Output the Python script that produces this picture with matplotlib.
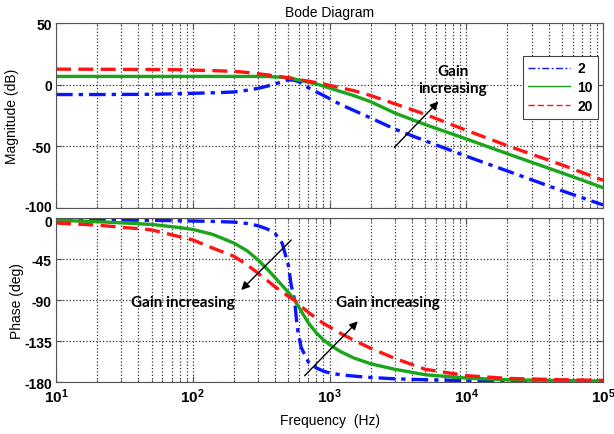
import numpy as np
import matplotlib
matplotlib.use('Agg')
import matplotlib.pyplot as plt
import matplotlib.transforms as mtransforms
from matplotlib.lines import Line2D

# gain values in the legend
gains = ['2', '10', '20']

# magnitude (dB)
f_mag = [10, 20, 50, 80, 100, 150, 200, 250, 300, 350, 400, 450, 500, 550, 600,
         700, 800, 900, 1000, 1200, 1500, 2000, 3000, 5000, 1e4, 2e4, 5e4, 1e5]
mag_2 = [-8.0, -8.0, -7.8, -7.3, -7.0, -6.5, -5.9, -4.5, -3.0, -1.2, 0.6, 2.5, 3.9, 3.6, 2.3,
         -2.5, -5.8, -8.6, -11.3, -16.0, -20.8, -27.0, -36.0, -45.5, -58.0, -70.0, -86.0, -97.5]
mag_10 = [6.7, 6.7, 6.7, 6.7, 6.7, 6.7, 6.7, 6.7, 6.7, 6.6, 6.3, 6.0, 5.6, 4.7, 3.6,
          2.0, 0.6, -1.1, -2.7, -5.5, -8.8, -13.8, -23.0, -32.3, -44.0, -56.0, -71.5, -83.5]
mag_20 = [12.6, 12.5, 12.3, 12.1, 11.8, 11.3, 10.8, 9.9, 8.9, 8.0, 7.1, 6.3, 5.6, 4.8, 4.0,
          2.8, 1.7, 0.6, -0.5, -2.5, -4.8, -8.8, -15.5, -24.0, -37.0, -49.5, -65.0, -77.5]

# phase (deg)
f_ph = [10, 20, 50, 80, 100, 140, 200, 250, 300, 350, 400, 450, 500, 525, 555, 580, 620,
        700, 800, 900, 1000, 1200, 1500, 2000, 3000, 5000, 1e4, 2e4, 5e4, 1e5]
ph_2 = [-1.5, -2.0, -2.5, -3.0, -3.3, -3.7, -4.5, -6.0, -8.5, -12.0, -17.0, -27.5, -52.0, -74.0, -90.0,
        -120.0, -142.0, -158.0, -164.5, -168.0, -170.0, -172.0, -173.5, -175.0, -176.5, -177.5,
        -178.5, -179.0, -179.5, -179.7]
ph_10 = [-2.5, -4.0, -7.0, -10.5, -12.5, -18.0, -27.5, -36.0, -46.0, -56.0, -65.5, -74.0, -81.5, -85.5,
         -90.0, -95.0, -102.0, -115.0, -126.0, -133.5, -139.0, -146.5, -153.5, -160.0, -166.0,
         -172.0, -175.7, -177.5, -178.4, -178.8]
ph_20 = [-5.5, -7.8, -13.0, -20.5, -24.0, -33.0, -42.0, -51.5, -60.5, -68.5, -75.5, -81.0, -86.0, -88.0,
         -90.0, -93.0, -97.0, -103.5, -110.0, -115.5, -119.5, -126.5, -134.0, -143.0, -154.0,
         -166.0, -173.0, -176.0, -177.5, -178.2]

mag_ticks = [50, 0, -50, -100]
ph_ticks = [0, -45, -90, -135, -180]
f_ticks = [1e1, 1e2, 1e3, 1e4, 1e5]
f_labels = ['$\\mathbf{10^{1}}$', '$\\mathbf{10^{2}}$', '$\\mathbf{10^{3}}$',
            '$\\mathbf{10^{4}}$', '$\\mathbf{10^{5}}$']

plt.rcParams['font.family'] = ['Liberation Sans', 'DejaVu Sans']
plt.rcParams['mathtext.fontset'] = 'custom'
plt.rcParams['mathtext.bf'] = 'Liberation Sans:bold'
plt.rcParams['mathtext.rm'] = 'Liberation Sans'

colors = ['#0a14ff', '#1aa51a', '#ff1414']
styles = [(0, (5, 1.8, 1.3, 1.8)), '-', (0, (4.5, 2.2))]

fig = plt.figure(figsize=(6.14, 4.35), dpi=100)
ax1 = fig.add_axes([0.0912, 0.5195, 0.891, 0.4253])
ax2 = fig.add_axes([0.0912, 0.1195, 0.891, 0.377])

for ax in (ax1, ax2):
    ax.set_xscale('log')
    ax.set_xlim(10, 1e5)
    ax.grid(True, which='major', ls=':', color='#333333', lw=0.9)
    ax.grid(True, which='minor', axis='x', ls=':', color='#333333', lw=0.9)
    for s in ax.spines.values():
        s.set_color('#555555')
    ax.tick_params(which='both', direction='in', top=True, right=True, colors='#555555',
                   labelcolor='black', labelsize=10, pad=3)
    ax.tick_params(which='major', length=4)
    ax.tick_params(which='minor', length=2)

mags = [mag_2, mag_10, mag_20]
phs = [ph_2, ph_10, ph_20]
for g, m, c, st in zip(gains, mags, colors, styles):
    ax1.plot(f_mag, m, color=c, ls=st, lw=2.4, label=g)
for p, c, st in zip(phs, colors, styles):
    ax2.plot(f_ph, p, color=c, ls=st, lw=2.4)

ax1.set_ylim(-100, 50)
ax1.set_yticks(mag_ticks)
ax1.set_yticklabels([str(v) for v in mag_ticks], fontweight='bold')
ax1.set_xticks(f_ticks)
ax1.set_xticklabels([])
ax1.set_ylabel('Magnitude (dB)', fontsize=10, labelpad=4)
ax1.set_title('Bode Diagram', fontsize=10, pad=5)

ax2.set_ylim(-180, 0)
ax2.set_yticks(ph_ticks)
ax2.set_yticklabels([str(v) for v in ph_ticks], fontweight='bold')
ax2.set_xticks(f_ticks)
ax2.set_xticklabels(f_labels, fontsize=11)
ax2.set_ylabel('Phase (deg)', fontsize=10, labelpad=0)
ax2.set_xlabel('Frequency  (Hz)', fontsize=10, labelpad=6)

# the -100 and 0 labels sit right next to each other, nudge them apart a little
up = mtransforms.ScaledTranslation(0, 2 / 72, fig.dpi_scale_trans)
down = mtransforms.ScaledTranslation(0, -2 / 72, fig.dpi_scale_trans)
lab = ax1.get_yticklabels()[-1]
lab.set_transform(lab.get_transform() + up)
lab = ax2.get_yticklabels()[0]
lab.set_transform(lab.get_transform() + down)

handles = [Line2D([], [], color=c, ls=st, lw=1.0) for c, st in zip(colors, styles)]
leg = ax1.legend(handles, gains, loc='upper right', bbox_to_anchor=(0.991, 0.822),
                 borderaxespad=0, fancybox=False, framealpha=1, edgecolor='#444444',
                 handlelength=3.0, handletextpad=0.5, labelspacing=0.35,
                 prop={'size': 10, 'weight': 'bold'})
leg.get_frame().set_linewidth(0.8)

ann = dict(fontsize=11, fontweight='bold', family=['Lato', 'DejaVu Sans'], ha='center', va='center')
arrow = dict(arrowstyle='-|>', color='black', lw=1.0, mutation_scale=12, shrinkA=0, shrinkB=0)

ax1.text(8000, 4.4, 'Gain\nincreasing', linespacing=1.3, **ann)
ax1.annotate('', xy=(6250, -13.7), xytext=(2980, -50.8), arrowprops=arrow)

ax2.text(84.5, -92.2, 'Gain increasing', **ann)
ax2.text(2650, -92.2, 'Gain increasing', **ann)
ax2.annotate('', xy=(226, -79), xytext=(525, -24.1), arrowprops=arrow)
ax2.annotate('', xy=(1609, -113.4), xytext=(657, -173.1), arrowprops=arrow)

fig.savefig('out.png', dpi=100)
